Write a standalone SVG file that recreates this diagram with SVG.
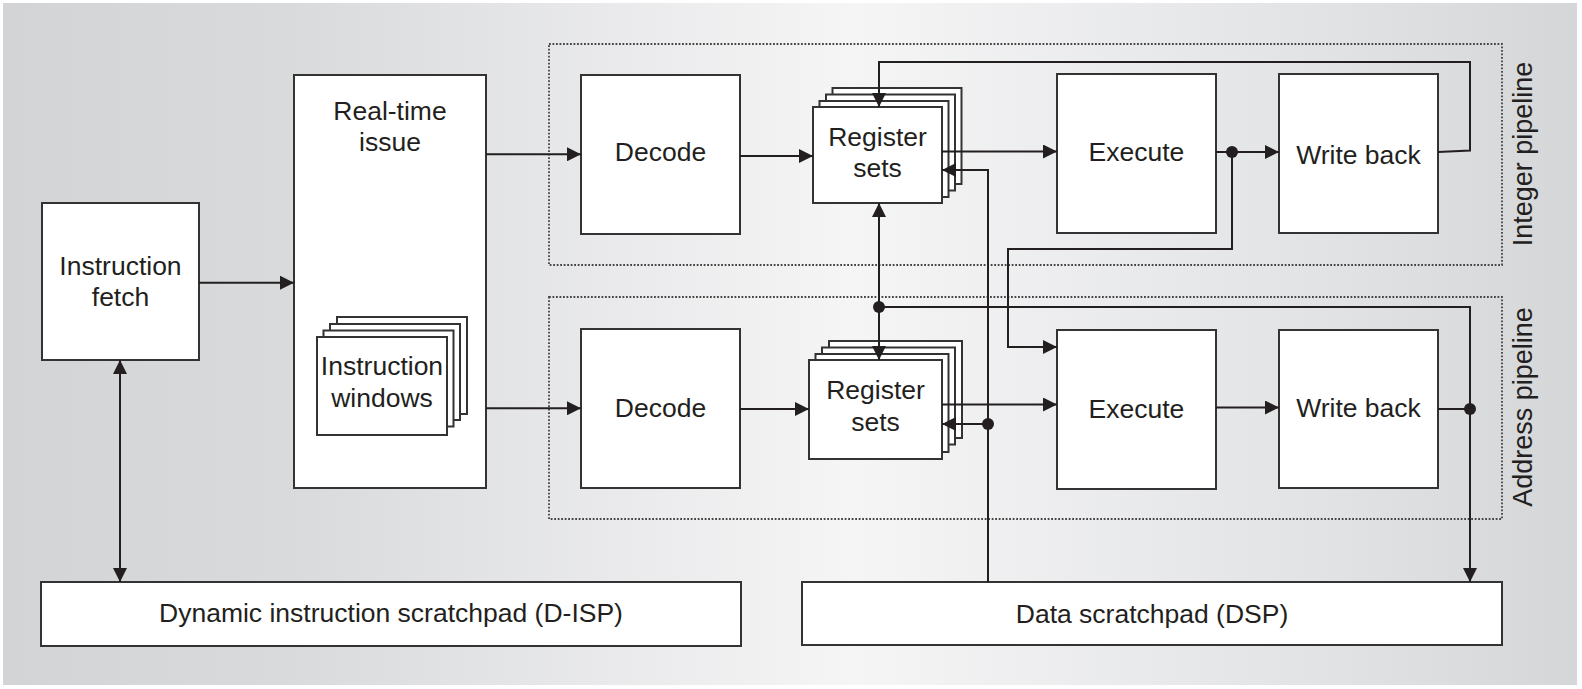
<svg xmlns="http://www.w3.org/2000/svg" width="1582" height="689" viewBox="0 0 1582 689">
<defs>
<linearGradient id="bg" x1="0" y1="0" x2="1" y2="0">
<stop offset="0" stop-color="#d3d4d6"/>
<stop offset="0.18" stop-color="#d9dadc"/>
<stop offset="0.54" stop-color="#f5f5f6"/>
<stop offset="0.85" stop-color="#e1e2e4"/>
<stop offset="1" stop-color="#d5d6d8"/>
</linearGradient>
<marker id="ah" viewBox="0 0 14 14" refX="14" refY="7" markerWidth="14" markerHeight="14" markerUnits="userSpaceOnUse" orient="auto-start-reverse">
<path d="M0,0 L14,7 L0,14 z" fill="#231f20"/>
</marker>
</defs>
<style>
.box{fill:#fff;stroke:#333;stroke-width:2}
.grp{fill:none;stroke:#444;stroke-width:1.8;stroke-dasharray:1.8 1.7}
.t{font-family:"Liberation Sans",Arial,sans-serif;font-size:26.5px;fill:#231f20;text-anchor:middle}
.rt{font-family:"Liberation Sans",Arial,sans-serif;font-size:27px;fill:#231f20;text-anchor:middle}
.ln{fill:none;stroke:#231f20;stroke-width:2}
.arr{marker-end:url(#ah)}
.dot{fill:#231f20}
</style>
<rect x="0" y="0" width="1582" height="689" fill="#fff"/>
<rect x="3" y="3" width="1574" height="682" fill="url(#bg)"/>

<g id="integer-pipeline">
<rect class="grp" x="549" y="44" width="953" height="221"/>
<text class="rt" transform="translate(1532,154) rotate(-90)">Integer pipeline</text>
</g>
<g id="address-pipeline">
<rect class="grp" x="549" y="297" width="953" height="222"/>
<text class="rt" transform="translate(1532,407) rotate(-90)">Address pipeline</text>
</g>

<g id="instruction-fetch">
<rect class="box" x="42" y="203" width="157" height="157"/>
<text class="t" x="120.5" y="275">Instruction</text>
<text class="t" x="120.5" y="306">fetch</text>
</g>

<g id="real-time-issue">
<rect class="box" x="294" y="75" width="192" height="413"/>
<text class="t" x="390" y="120">Real-time</text>
<text class="t" x="390" y="151">issue</text>
</g>

<g id="instruction-windows">
<rect class="box" x="337" y="317" width="130" height="97"/>
<rect class="box" x="330" y="324" width="130" height="96"/>
<rect class="box" x="323.5" y="330.5" width="130" height="96"/>
<rect class="box" x="317" y="337" width="130" height="98"/>
<text class="t" x="382" y="375">Instruction</text>
<text class="t" x="382" y="407">windows</text>
</g>

<g id="decode-int">
<rect class="box" x="581" y="75" width="159" height="159"/>
<text class="t" x="660.5" y="161">Decode</text>
</g>
<g id="decode-addr">
<rect class="box" x="581" y="329" width="159" height="159"/>
<text class="t" x="660.5" y="417">Decode</text>
</g>

<g id="register-sets-int">
<rect class="box" x="832.5" y="88" width="129" height="96"/>
<rect class="box" x="826" y="94.5" width="129" height="96"/>
<rect class="box" x="819.5" y="101" width="129" height="96"/>
<rect class="box" x="813" y="107" width="129" height="96"/>
<text class="t" x="877.5" y="146">Register</text>
<text class="t" x="877.5" y="177">sets</text>
</g>
<g id="register-sets-addr">
<rect class="box" x="829" y="341" width="133" height="97"/>
<rect class="box" x="822" y="347.5" width="133" height="97"/>
<rect class="box" x="815.5" y="354" width="133" height="98"/>
<rect class="box" x="809" y="360" width="133" height="99"/>
<text class="t" x="875.5" y="399">Register</text>
<text class="t" x="875.5" y="431">sets</text>
</g>

<g id="execute-int">
<rect class="box" x="1057" y="74" width="159" height="159"/>
<text class="t" x="1136.5" y="161">Execute</text>
</g>
<g id="execute-addr">
<rect class="box" x="1057" y="330" width="159" height="159"/>
<text class="t" x="1136.5" y="417.5">Execute</text>
</g>

<g id="write-back-int">
<rect class="box" x="1279" y="74" width="159" height="159"/>
<text class="t" x="1358.5" y="164">Write back</text>
</g>
<g id="write-back-addr">
<rect class="box" x="1279" y="330" width="159" height="158"/>
<text class="t" x="1358.5" y="416.5">Write back</text>
</g>

<g id="d-isp">
<rect class="box" x="41" y="582" width="700" height="64"/>
<text class="t" x="391" y="622">Dynamic instruction scratchpad (D-ISP)</text>
</g>
<g id="dsp">
<rect class="box" x="802" y="582" width="700" height="63"/>
<text class="t" x="1152" y="623">Data scratchpad (DSP)</text>
</g>

<g id="connectors">
<path class="ln arr" d="M199,282.7 H294"/>
<path class="ln arr" d="M120,360 V582" marker-start="url(#ah)"/>
<path class="ln arr" d="M486,154.3 H581"/>
<path class="ln arr" d="M486,408.3 H581"/>
<path class="ln arr" d="M740,156 H813"/>
<path class="ln arr" d="M740,409 H809"/>
<path class="ln arr" d="M942,151.5 H1057"/>
<path class="ln arr" d="M942,404.5 H1057"/>
<path class="ln arr" d="M1216,152 H1279"/>
<path class="ln arr" d="M1216,407.5 H1279"/>
<path class="ln arr" d="M1438,152 L1470,150.5 V62 H879 V107"/>
<path class="ln arr" d="M1232,152 V249 H1008 V347 H1057"/>
<path class="ln arr" d="M1438,409 H1470 V582"/>
<path class="ln" d="M1470,409 V307 H879"/>
<path class="ln arr" d="M879,307 V203"/>
<path class="ln arr" d="M879,307 V360"/>
<path class="ln arr" d="M988,582 V170 H942"/>
<path class="ln arr" d="M988,424 H942"/>
<circle class="dot" cx="1232" cy="152" r="6"/>
<circle class="dot" cx="879" cy="307" r="6"/>
<circle class="dot" cx="1470" cy="409" r="6"/>
<circle class="dot" cx="988" cy="424" r="6"/>
</g>
</svg>
